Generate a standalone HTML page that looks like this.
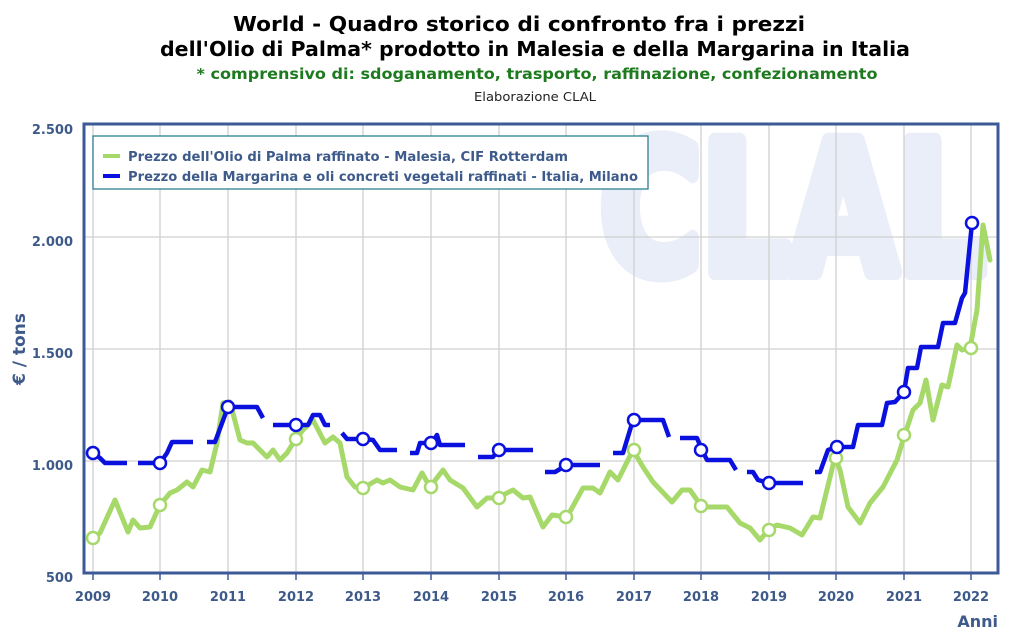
<!DOCTYPE html>
<html><head><meta charset="utf-8"><style>
html,body{margin:0;padding:0;background:#fff;}
svg{display:block;font-family:"DejaVu Sans","Liberation Sans",sans-serif;}
</style></head><body>
<svg width="1024" height="644" viewBox="0 0 1024 644" xmlns="http://www.w3.org/2000/svg">
<rect width="1024" height="644" fill="#fff"/>
<text x="519" y="31" text-anchor="middle" font-size="20" font-weight="bold" fill="#000" textLength="572" lengthAdjust="spacingAndGlyphs">World - Quadro storico di confronto fra i prezzi</text>
<text x="535" y="56" text-anchor="middle" font-size="20" font-weight="bold" fill="#000" textLength="750" lengthAdjust="spacingAndGlyphs">dell'Olio di Palma* prodotto in Malesia e della Margarina in Italia</text>
<text x="537" y="79" text-anchor="middle" font-size="15" font-weight="bold" fill="#1e7a1e" textLength="681" lengthAdjust="spacingAndGlyphs">* comprensivo di: sdoganamento, trasporto, raffinazione, confezionamento</text>
<text x="535" y="101" text-anchor="middle" font-size="12" fill="#222" textLength="122" lengthAdjust="spacingAndGlyphs">Elaborazione CLAL</text>
<!-- watermark -->
<text x="600" y="272" font-size="180" font-weight="bold" fill="#eaeef8" stroke="#eaeef8" stroke-width="16" stroke-linejoin="round" textLength="385" lengthAdjust="spacingAndGlyphs">CLAL</text>
<!-- grid -->
<g stroke="#d0d0d0" stroke-width="1.3">
<line x1="84" y1="237" x2="998" y2="237"/><line x1="84" y1="349" x2="998" y2="349"/><line x1="84" y1="461" x2="998" y2="461"/>
<line x1="93" y1="124" x2="93" y2="573"/><line x1="160" y1="124" x2="160" y2="573"/><line x1="228" y1="124" x2="228" y2="573"/><line x1="296" y1="124" x2="296" y2="573"/><line x1="363" y1="124" x2="363" y2="573"/><line x1="431" y1="124" x2="431" y2="573"/><line x1="499" y1="124" x2="499" y2="573"/><line x1="566" y1="124" x2="566" y2="573"/><line x1="634" y1="124" x2="634" y2="573"/><line x1="701" y1="124" x2="701" y2="573"/><line x1="769" y1="124" x2="769" y2="573"/><line x1="836" y1="124" x2="836" y2="573"/><line x1="904" y1="124" x2="904" y2="573"/><line x1="971" y1="124" x2="971" y2="573"/>
</g>
<rect x="84" y="124" width="914" height="449" fill="none" stroke="#3d5a98" stroke-width="3"/>
<g stroke="#3d5a98" stroke-width="1.5">
<line x1="93" y1="573" x2="93" y2="580"/><line x1="160" y1="573" x2="160" y2="580"/><line x1="228" y1="573" x2="228" y2="580"/><line x1="296" y1="573" x2="296" y2="580"/><line x1="363" y1="573" x2="363" y2="580"/><line x1="431" y1="573" x2="431" y2="580"/><line x1="499" y1="573" x2="499" y2="580"/><line x1="566" y1="573" x2="566" y2="580"/><line x1="634" y1="573" x2="634" y2="580"/><line x1="701" y1="573" x2="701" y2="580"/><line x1="769" y1="573" x2="769" y2="580"/><line x1="836" y1="573" x2="836" y2="580"/><line x1="904" y1="573" x2="904" y2="580"/><line x1="971" y1="573" x2="971" y2="580"/>
</g>
<g font-size="13" font-weight="bold" fill="#3d5a8a" text-anchor="end">
<text x="73" y="134">2.500</text><text x="73" y="246">2.000</text><text x="73" y="358">1.500</text><text x="73" y="470">1.000</text><text x="73" y="582">500</text>
</g>
<g font-size="13" font-weight="bold" fill="#3d5a8a" text-anchor="middle">
<text x="93" y="601">2009</text><text x="160" y="601">2010</text><text x="228" y="601">2011</text><text x="296" y="601">2012</text><text x="363" y="601">2013</text><text x="431" y="601">2014</text><text x="499" y="601">2015</text><text x="566" y="601">2016</text><text x="634" y="601">2017</text><text x="701" y="601">2018</text><text x="769" y="601">2019</text><text x="836" y="601">2020</text><text x="904" y="601">2021</text><text x="971" y="601">2022</text>
</g>
<text x="998" y="627" text-anchor="end" font-size="16" font-weight="bold" fill="#3d5a8a">Anni</text>
<text transform="translate(25,349) rotate(-90)" text-anchor="middle" font-size="17" font-weight="bold" fill="#3d5a8a">€ / tons</text>
<!-- legend -->
<rect x="93" y="136" width="555" height="53" fill="#fff" stroke="#2e7f8f" stroke-width="1.3"/>
<line x1="103" y1="156" x2="120" y2="156" stroke="#a6d96a" stroke-width="4"/>
<line x1="103" y1="176" x2="120" y2="176" stroke="#0a10dd" stroke-width="4"/>
<g font-size="13" font-weight="bold" fill="#3d5a8a">
<text x="128" y="161" textLength="440" lengthAdjust="spacingAndGlyphs">Prezzo dell'Olio di Palma raffinato - Malesia, CIF Rotterdam</text>
<text x="128" y="181" textLength="510" lengthAdjust="spacingAndGlyphs">Prezzo della Margarina e oli concreti vegetali raffinati - Italia, Milano</text>
</g>
<!-- green series -->
<polyline fill="none" stroke="#a6d96a" stroke-width="5" stroke-linejoin="round" stroke-linecap="round" points="93,538 100,533 115,500 128,532 133,520 140,528 150,527 160,505 170,493 177,490 187,482 193,487 202,470 210,472 217,443 223,403 230,402 240,440 247,443 253,443 267,457 273,450 280,460 287,453 295,440 303,430 313,420 325,443 333,437 340,443 347,477 355,487 363,488 377,480 383,483 390,480 400,487 413,490 422,473 430,487 443,470 450,480 463,488 477,507 487,498 497,498 513,490 523,498 530,497 543,527 552,515 567,517 583,488 593,488 600,493 610,472 618,480 633,450 643,467 653,482 672,502 682,490 690,490 702,507 713,507 727,507 740,523 750,528 760,540 770,528 777,525 790,528 802,535 813,517 820,518 835,457 840,470 848,507 860,523 870,503 883,487 897,460 903,440 913,410 920,403 926,380 933,420 942,385 948,387 957,345 962,350 970,348 977,310 983,225 990,260"/>
<g fill="#fff" stroke="#a6d96a" stroke-width="2.5">
<circle cx="93" cy="538" r="6"/><circle cx="160" cy="505" r="6"/><circle cx="296" cy="439" r="6"/><circle cx="363" cy="488" r="6"/><circle cx="431" cy="487" r="6"/><circle cx="499" cy="498" r="6"/><circle cx="566" cy="517" r="6"/><circle cx="634" cy="450" r="6"/><circle cx="701" cy="506" r="6"/><circle cx="769" cy="530" r="6"/><circle cx="836" cy="458" r="6"/><circle cx="904" cy="435" r="6"/><circle cx="971" cy="348" r="6"/>
</g>
<!-- blue series -->
<g fill="none" stroke="#0a10dd" stroke-width="4.5" stroke-linejoin="round">
<polyline points="93,453 100,458 105,463 127,463"/>
<polyline points="138,463 160,463 167,453 172,442 193,442"/>
<polyline points="207,442 215,442 228,407 257,407 263,418"/>
<polyline points="273,425 308,425 313,415 320,415 325,425 330,425"/>
<polyline points="342,433 347,439 365,439 373,440 380,450 397,450"/>
<polyline points="410,453 417,453 420,443 432,443 437,435 440,445 465,445"/>
<polyline points="478,457 493,457 498,450 533,450"/>
<polyline points="545,472 555,472 567,465 600,465"/>
<polyline points="613,453 623,453 630,430 633,420 663,420 669,437"/>
<polyline points="680,438 697,438 702,450 707,460 730,460 736,470"/>
<polyline points="747,472 753,472 758,480 769,483 803,483"/>
<polyline points="815,472 820,472 828,450 837,447 853,447 858,425 882,425 887,403 895,402 904,392 908,368 917,368 921,347 938,347 943,323 955,323 962,298 965,293 972,223"/>
</g>
<g fill="#fff" stroke="#0a10dd" stroke-width="2.5">
<circle cx="93" cy="453" r="6"/><circle cx="160" cy="463" r="6"/><circle cx="228" cy="407" r="6"/><circle cx="296" cy="425" r="6"/><circle cx="363" cy="439" r="6"/><circle cx="431" cy="443" r="6"/><circle cx="499" cy="450" r="6"/><circle cx="566" cy="465" r="6"/><circle cx="634" cy="420" r="6"/><circle cx="701" cy="450" r="6"/><circle cx="769" cy="483" r="6"/><circle cx="837" cy="447" r="6"/><circle cx="904" cy="392" r="6"/><circle cx="972" cy="223" r="6"/>
</g>
</svg>
</body></html>
